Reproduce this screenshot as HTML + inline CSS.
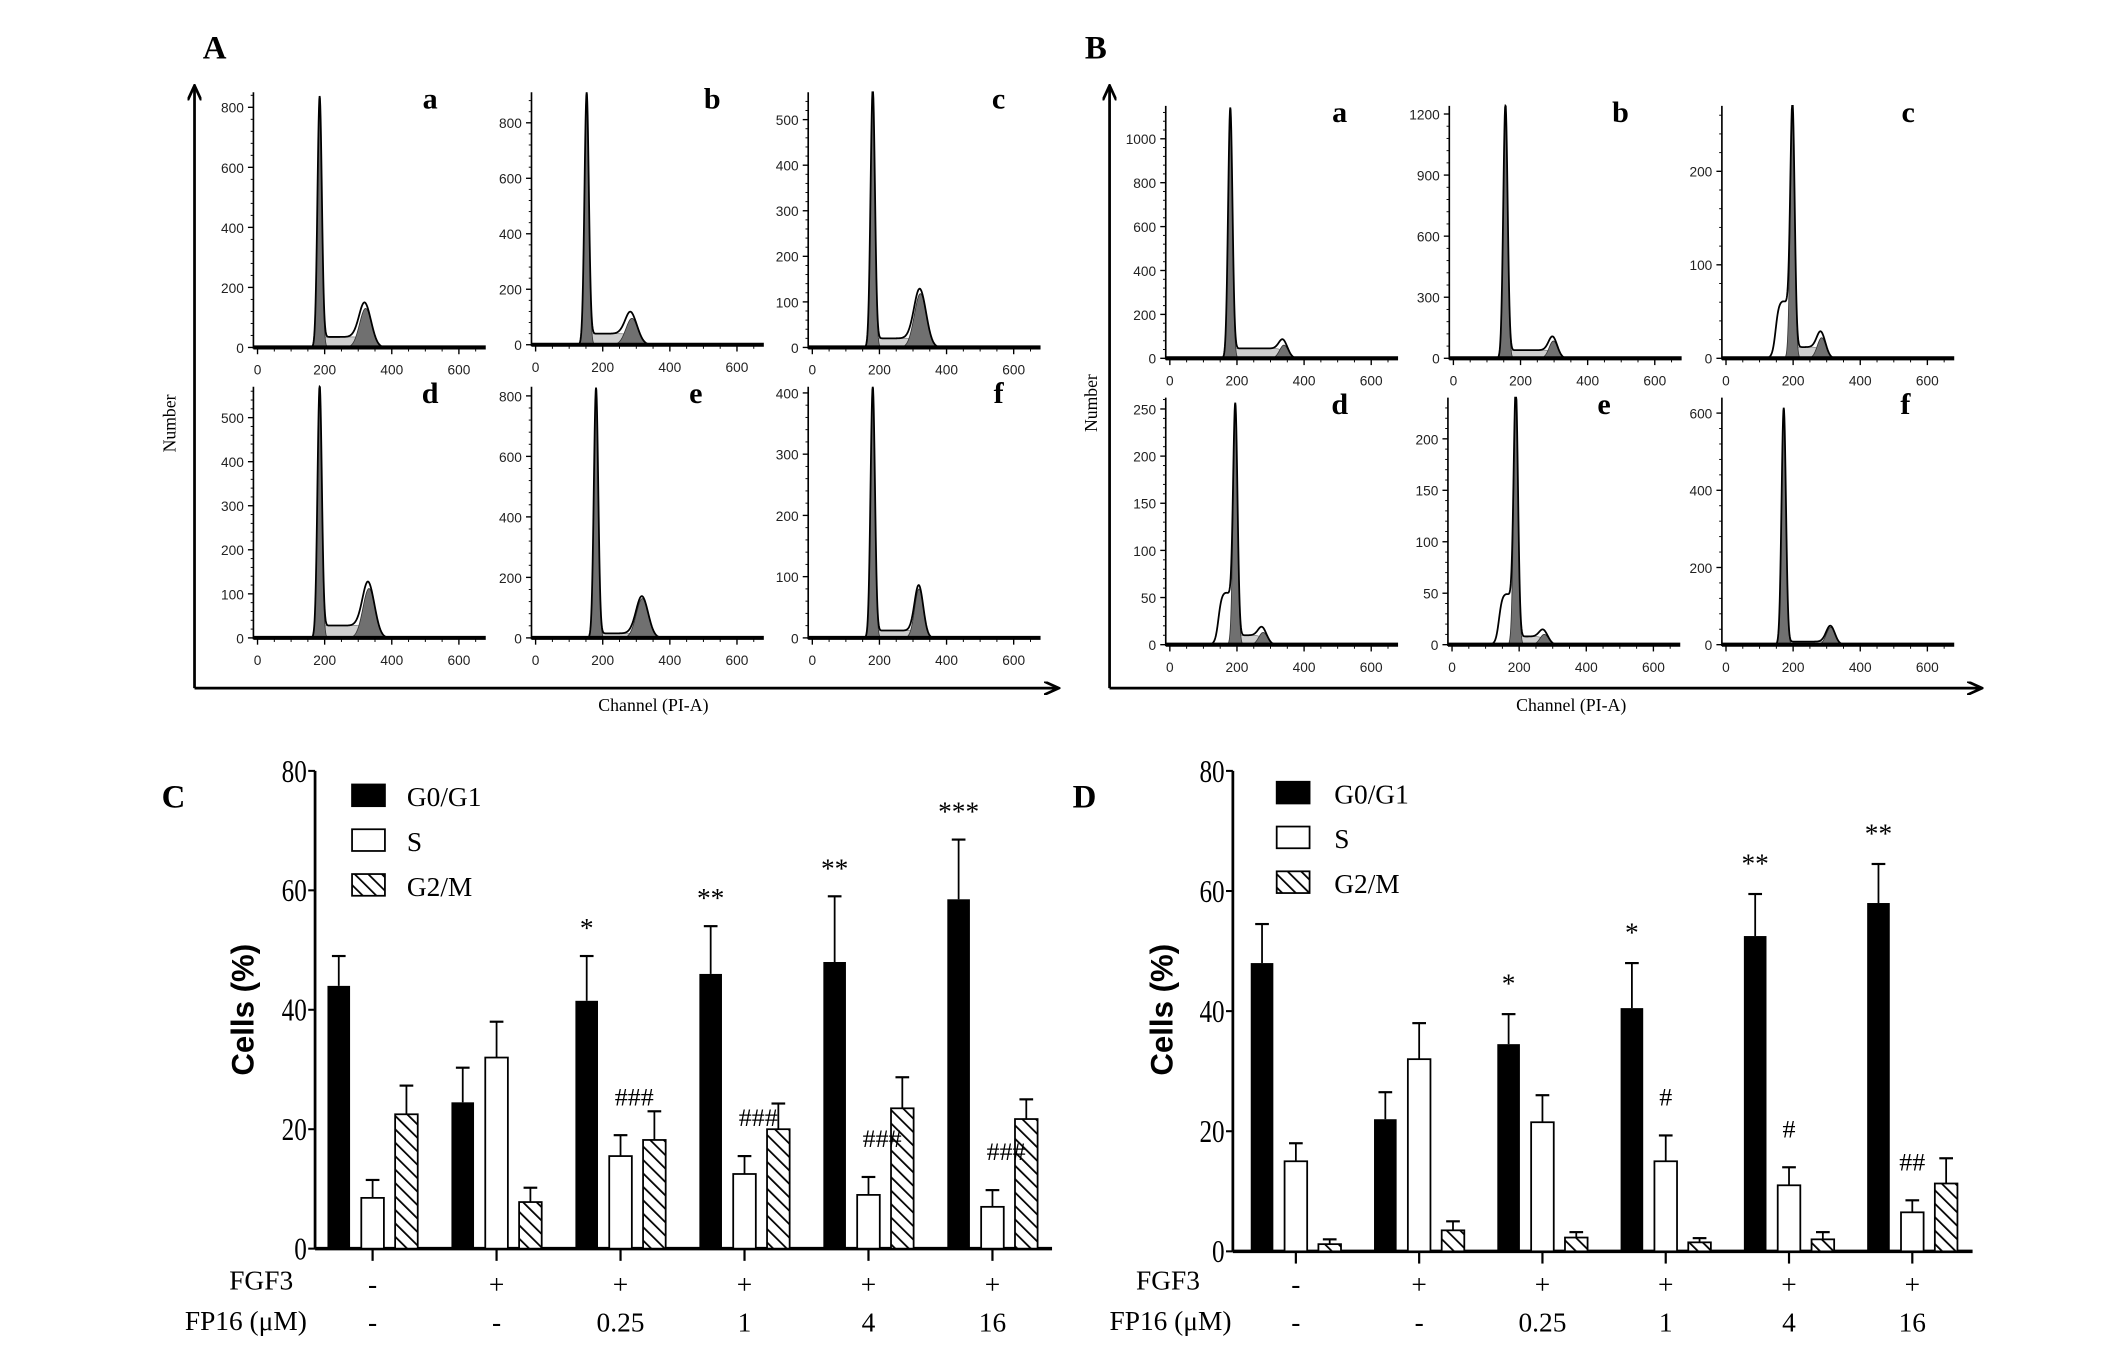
<!DOCTYPE html>
<html><head><meta charset="utf-8">
<style>
html,body{margin:0;padding:0;background:#fff;}
svg{display:block;}
.sans{font-family:"Liberation Sans",sans-serif;}
.serif{font-family:"Liberation Serif",serif;}
</style></head>
<body>
<svg id="fig" width="2126" height="1345" viewBox="0 0 1552 991" preserveAspectRatio="none" xmlns="http://www.w3.org/2000/svg">
<defs>
<pattern id="hatch" patternUnits="userSpaceOnUse" width="7" height="7" patternTransform="rotate(-45)">
<rect width="7" height="7" fill="#fff"/><line x1="0" y1="0" x2="0" y2="7" stroke="#000" stroke-width="2.6"/>
</pattern>
<marker id="arr" markerWidth="12" markerHeight="10" refX="10" refY="5" orient="auto" markerUnits="userSpaceOnUse">
<path d="M0,0 L11,5 L0,10" fill="none" stroke="#000" stroke-width="2"/>
</marker>
</defs>
<g id="root"></g>
</svg>
<script>
// ---------- Histogram data (flow cytometry) ----------
const histLetters = ['a','b','c','d','e','f'];
const histTicksA = [[0,200,400,600,800],[0,200,400,600,800],[0,100,200,300,400,500],[0,100,200,300,400,500],[0,200,400,600,800],[0,100,200,300,400]];
const histYmaxA = [850,910,560,570,830,410];
const histG1PosA = [185,152,180,185,180,180];
const histG1HA = [820,890,560,560,820,405];
const histG2PosA = [322,287,322,332,318,318];
const histG2HA = [130,95,118,112,130,80];
const histSA = [35,40,20,28,15,12];
const histSubA = [0,0,0,0,0,0];

const histTicksB = [[0,200,400,600,800,1000],[0,300,600,900,1200],[0,100,200],[0,50,100,150,200,250],[0,50,100,150,200],[0,200,400,600]];
const histYmaxB = [1150,1240,270,262,240,640];
const histG1PosB = [180,155,198,195,190,172];
const histG1HB = [1120,1230,262,245,240,610];
const histG2PosB = [340,298,285,278,275,312];
const histG2HB = [60,85,22,13,10,45];
const histSB = [45,40,12,10,8,8];
const histSubB = [0,0,62,56,50,0];

// ---------- Bar chart data ----------
const groups = ['1','2','3','4','5','6'];
const fgf3Labels = ['-','+','+','+','+','+'];
const fp16Labels = ['-','-','0.25','1','4','16'];
const yTicks = [0,20,40,60,80];

const cG0 = [44,24.5,41.5,46,48,58.5];
const cG0Err = [5,5.8,7.5,8,11,10];
const cS = [8.5,32,15.5,12.5,9,7];
const cSErr = [3,6,3.5,3,3,2.8];
const cG2 = [22.5,7.8,18.2,20,23.5,21.7];
const cG2Err = [4.8,2.4,4.8,4.3,5.2,3.3];
const cStars = ['','','*','**','**','***'];
const cHash = ['','','###','###','###','###'];

const dG0 = [48,22,34.5,40.5,52.5,58];
const dG0Err = [6.5,4.5,5,7.5,7,6.5];
const dS = [15,32,21.5,15,11,6.5];
const dSErr = [3,6,4.5,4.3,3,2];
const dG2 = [1.2,3.5,2.3,1.5,2,11.3];
const dG2Err = [0.8,1.5,0.9,0.7,1.2,4.2];
const dStars = ['','','*','*','**','**'];
const dHash = ['','','','#','#','##'];

const NS='http://www.w3.org/2000/svg';
const root=document.getElementById('root');
function el(tag,attrs,parent){const e=document.createElementNS(NS,tag);for(const k in attrs)e.setAttribute(k,attrs[k]);(parent||root).appendChild(e);return e;}
function txt(s,attrs,parent){const e=el('text',attrs,parent);e.textContent=s;return e;}

// ---------- Panel letters ----------
[['A',148,43],['B',792,43],['C',118,595],['D',783,595]].forEach(p=>{
  const t=txt(p[0],{x:p[1],y:p[2],'font-size':24,'font-weight':'bold','class':'serif'});
  
  
});

// ---------- Big axes for A and B ----------
function bigAxes(x0,xEnd,yTop,yBot,numX,numY,chX,name){
  const g=el('g',{});
  
  
  el('line',{x1:x0,y1:yBot,x2:x0,y2:yTop,stroke:'#000','stroke-width':2,'marker-end':'url(#arr)'},g);
  el('line',{x1:x0,y1:yBot,x2:xEnd,y2:yBot,stroke:'#000','stroke-width':2,'marker-end':'url(#arr)'},g);
  const n=txt('Number',{x:0,y:0,'font-size':13,'class':'serif','text-anchor':'middle',transform:`translate(${numX},${numY}) rotate(-90)`},g);
  
  
  const c=txt('Channel (PI-A)',{x:chX,y:yBot+17,'font-size':13,'class':'serif','text-anchor':'middle'},g);
  
  
}
bigAxes(142,772,64,507,128,312,477,'panel-a');
bigAxes(810,1446,64,507,801,297,1147,'panel-b');

// ---------- Histograms ----------
function gauss(c,m,s){return Math.exp(-0.5*((c-m)/s)*((c-m)/s));}
function sig(z){return 1/(1+Math.exp(-z));}
function histogram(name,x0,yt,yb,ticks,ymax,m1,h1,m2,h2,sH,sub,letter,lx){
  const g=el('g',{});
  
  
  const kx=0.245;
  const X=c=>x0+3+c*kx;
  const Y=v=>yb-v/ymax*(yb-yt);
  const xEnd=X(680);
  const cs=[];for(let c=90;c<=440;c+=1)cs.push(c);
  const s1=6.5,s2=(h2>90?18:13);
  const comp=c=>{
    const a=h1*gauss(c,m1,s1);
    const b=h2*gauss(c,m2,s2);
    const s=sH*sig((c-m1)/4)*sig((m2-c)/6);
    const u=sub*sig((c-(m1-50))/5)*sig(((m1-8)-c)/4);
    return [a,b,s,u];
  };
  const poly=(f)=>{let d=`M${X(cs[0])},${yb}`;cs.forEach(c=>{d+=`L${X(c).toFixed(2)},${Y(Math.min(f(c),ymax)).toFixed(2)}`;});d+=`L${X(cs[cs.length-1])},${yb}Z`;return d;};
  const sp=el('path',{d:poly(c=>{const v=comp(c);return v[2];}),fill:'#cfcfcf',stroke:'#888','stroke-width':0.6},g);
  
  
  const g1p=el('path',{d:poly(c=>comp(c)[0]),fill:'#707070',stroke:'#333','stroke-width':0.6},g);
  
  
  const g2p=el('path',{d:poly(c=>comp(c)[1]),fill:'#707070',stroke:'#333','stroke-width':0.6},g);
  
  
  let d='';cs.forEach((c,i)=>{const v=comp(c);const t=v[0]+v[1]+v[2]+v[3];d+=(i?'L':'M')+X(c).toFixed(2)+','+Y(Math.min(t,ymax)).toFixed(2);});
  const ol=el('path',{d:d,fill:'none',stroke:'#000','stroke-width':1.3},g);
  
  
  el('line',{x1:x0,y1:yt,x2:x0,y2:yb+1,stroke:'#000','stroke-width':1.2},g);
  el('line',{x1:x0,y1:yb,x2:xEnd,y2:yb,stroke:'#000','stroke-width':3},g);
  ticks.forEach(t=>{
    el('line',{x1:x0-4,y1:Y(t),x2:x0,y2:Y(t),stroke:'#000','stroke-width':1},g);
    const tl=txt(String(t),{x:x0-7,y:Y(t)+4,'font-size':10,'text-anchor':'end','class':'sans',fill:'#222'},g);
    
    
  });
  for(let i=0;i<ticks.length-1;i++){const st=(ticks[1]-ticks[0])/5;for(let k=1;k<5;k++){const v=ticks[i]+st*k;el('line',{x1:x0-2,y1:Y(v),x2:x0,y2:Y(v),stroke:'#000','stroke-width':0.7},g);}}
  {const st=(ticks[1]-ticks[0])/5;let v=ticks[ticks.length-1]+st;while(v<ymax){el('line',{x1:x0-2,y1:Y(v),x2:x0,y2:Y(v),stroke:'#000','stroke-width':0.7},g);v+=st;}}
  [0,200,400,600].forEach(t=>{
    el('line',{x1:X(t),y1:yb,x2:X(t),y2:yb+5,stroke:'#000','stroke-width':1},g);
    const tl=txt(String(t),{x:X(t),y:yb+20,'font-size':10,'text-anchor':'middle','class':'sans',fill:'#222'},g);
    
    
  });
  for(let t=50;t<680;t+=50){if(t%200)el('line',{x1:X(t),y1:yb,x2:X(t),y2:yb+3,stroke:'#000','stroke-width':0.7},g);}
  const lt=txt(letter,{x:lx,y:yt+12,'font-size':22,'font-weight':'bold','class':'serif','text-anchor':'middle'},g);
  
  
}
const axAx=[185,388,590,185,388,590];
const axAyt=[68,68,68,285,285,285];
const axAyb=[256,254,256,470,470,470];
const axAlx=[314,520,729,314,508,729];
for(let i=0;i<6;i++)histogram('histogram-a-'+histLetters[i],axAx[i],axAyt[i],axAyb[i],histTicksA[i],histYmaxA[i],histG1PosA[i],histG1HA[i],histG2PosA[i],histG2HA[i],histSA[i],histSubA[i],histLetters[i],axAlx[i]);
const axBx=[851,1058,1257,851,1057,1257];
const axByt=[78,78,78,293,293,293];
const axByb=[264,264,264,475,475,475];
const axBlx=[978,1183,1393,978,1171,1391];
for(let i=0;i<6;i++)histogram('histogram-b-'+histLetters[i],axBx[i],axByt[i],axByb[i],histTicksB[i],histYmaxB[i],histG1PosB[i],histG1HB[i],histG2PosB[i],histG2HB[i],histSB[i],histSubB[i],histLetters[i],axBlx[i]);

// ---------- Bar charts ----------
function barChart(name,ax,xEnd,y0,y80,g0x,gsp,G0,G0e,S,Se,G2,G2e,stars,hashes,legX,legTx,legY,labX,fgfRight,fpRight,starOff){
  const g=el('g',{});
  
  
  const Y=v=>y0-(v/80)*(y0-y80);
  const bw=16.5, off=24.7;
  el('line',{x1:ax,y1:y80,x2:ax,y2:y0,stroke:'#000','stroke-width':2},g);
  el('line',{x1:ax,y1:y0,x2:xEnd,y2:y0,stroke:'#000','stroke-width':2.6},g);
  yTicks.forEach(t=>{
    el('line',{x1:ax-5,y1:Y(t),x2:ax,y2:Y(t),stroke:'#000','stroke-width':1.5},g);
    const tl=txt(String(t),{x:ax-6,y:Y(t)+8,'font-size':23,'text-anchor':'end','class':'serif',transform:`translate(${ax-6},0) scale(0.8,1) translate(${-(ax-6)},0)`},g);
    
    
  });
  const yl=txt('Cells (%)',{x:0,y:0,'font-size':23,'font-weight':'bold','class':'sans','text-anchor':'middle',transform:`translate(${labX},744) rotate(-90)`},g);
  
  
  const errBar=(cx,v,e)=>{
    el('line',{x1:cx,y1:Y(v),x2:cx,y2:Y(v+e),stroke:'#000','stroke-width':1.3},g);
    el('line',{x1:cx-5,y1:Y(v+e),x2:cx+5,y2:Y(v+e),stroke:'#000','stroke-width':1.6},g);
  };
  groups.forEach((gname,i)=>{
    const c=g0x+i*gsp;
    const b1=el('rect',{x:c-off-bw/2,y:Y(G0[i]),width:bw,height:y0-Y(G0[i]),fill:'#000'},g);
    
    
    errBar(c-off,G0[i],G0e[i]);
    const b2=el('rect',{x:c-bw/2,y:Y(S[i]),width:bw,height:y0-Y(S[i]),fill:'#fff',stroke:'#000','stroke-width':1.3},g);
    
    
    errBar(c,S[i],Se[i]);
    const b3=el('rect',{x:c+off-bw/2,y:Y(G2[i]),width:bw,height:y0-Y(G2[i]),fill:'url(#hatch)',stroke:'#000','stroke-width':1.3},g);
    
    
    errBar(c+off,G2[i],G2e[i]);
    el('line',{x1:c,y1:y0,x2:c,y2:y0+9,stroke:'#000','stroke-width':1.6},g);
    if(stars[i]){const s=txt(stars[i],{x:c-off,y:Y(G0[i]+G0e[i])+starOff,'font-size':20,'class':'serif','text-anchor':'middle'},g);
      
      }
    if(hashes[i]){const hx=hashes[i].length===3?c+10:c;const h=txt(hashes[i],{x:hx,y:Y(S[i]+Se[i])-22,'font-size':19,'class':'serif','text-anchor':'middle'},g);
      
      }
    const f=txt(fgf3Labels[i],{x:c,y:953,'font-size':20,'class':'serif','text-anchor':'middle'},g);
    
    
    const p=txt(fp16Labels[i],{x:c,y:981,'font-size':20,'class':'serif','text-anchor':'middle'},g);
    
    
  });
  const r1=txt('FGF3',{x:fgfRight,y:950,'font-size':20,'class':'serif','text-anchor':'end'},g);
  
  
  const r2=txt('FP16 (μM)',{x:fpRight,y:980,'font-size':20,'class':'serif','text-anchor':'end'},g);
  
  
  const lg=el('g',{},g);
  
  
  const legNames=['G0/G1','S','G2/M'];
  const legFill=['#000','#fff','url(#hatch)'];
  legNames.forEach((n,k)=>{
    const yy=legY+k*33;
    const e=el('g',{},lg);
    
    
    el('rect',{x:legX,y:yy,width:24,height:16,fill:legFill[k],stroke:'#000','stroke-width':1.3},e);
    txt(n,{x:legTx,y:yy+16,'font-size':20,'class':'serif'},e);
  });
}
barChart('bar-chart-c',230,768,920,568,272,90.5,cG0,cG0Err,cS,cSErr,cG2,cG2Err,cStars,cHash,257,297,578,185,214,224,-14);
barChart('bar-chart-d',900,1440,922,568,946,90,dG0,dG0Err,dS,dSErr,dG2,dG2Err,dStars,dHash,932,974,576,856,876,899,-16);
</script>
</body></html>
